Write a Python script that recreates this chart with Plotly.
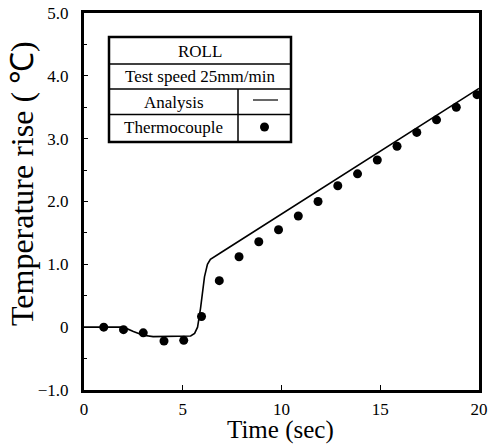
import plotly.graph_objects as go

# Thermocouple measurements (time in s, temperature rise in degC)
tc_time = [1.0, 2.0, 3.0, 4.05, 5.05, 5.95, 6.85, 7.85, 8.85, 9.85, 10.85,
           11.85, 12.85, 13.85, 14.85, 15.85, 16.85, 17.85, 18.85, 19.9]
tc_temp = [0.0, -0.04, -0.09, -0.22, -0.21, 0.17, 0.74, 1.12, 1.36, 1.55, 1.77,
           2.0, 2.25, 2.44, 2.66, 2.88, 3.1, 3.3, 3.5, 3.7]

# Analysis curve
an_time = [0, 2.0, 2.5, 3.0, 3.5, 5.0, 5.4, 5.6, 5.75, 5.9, 6.0, 6.1, 6.25,
           6.4, 7.0, 10, 15, 20]
an_temp = [0, 0, -0.07, -0.13, -0.15, -0.15, -0.14, -0.1, 0.0, 0.3, 0.55,
           0.8, 1.0, 1.08, 1.2, 1.8, 2.8, 3.8]

x_ticks = [0, 5, 10, 15, 20]
x_ticklabels = ["0", "5", "10", "15", "20"]
y_ticks = [-1, 0, 1, 2, 3, 4, 5]
y_ticklabels = ["\u22121.0", "0", "1.0", "2.0", "3.0", "4.0", "5.0"]

legend_rows = ["ROLL", "Test speed 25mm/min", "Analysis", "Thermocouple"]
x_title = "Time (sec)"
y_title = "Temperature rise ( \u2103)"

FONT = "Liberation Serif"

fig = go.Figure()
fig.add_trace(go.Scatter(x=an_time, y=an_temp, mode="lines",
                         line=dict(color="black", width=1.6), showlegend=False))
fig.add_trace(go.Scatter(x=tc_time, y=tc_temp, mode="markers",
                         marker=dict(color="black", size=9), showlegend=False,
                         cliponaxis=False))

# plot area in px: left 84, right 479, top 13, bottom 390
def px_x(p):
    return (p - 84) / 395.0

def px_y(p):
    return (390 - p) / 377.0

L, R, T, B = px_x(109), px_x(291), px_y(37), px_y(142)
r1, r2, r3 = px_y(64), px_y(89), px_y(114.5)
vx = px_x(238)

shapes = [
    dict(type="rect", xref="paper", yref="paper", x0=L, x1=R, y0=B, y1=T,
         line=dict(color="black", width=2.5), fillcolor="white", layer="above"),
]
for yy in (r1, r2, r3):
    shapes.append(dict(type="line", xref="paper", yref="paper", x0=L, x1=R,
                       y0=yy, y1=yy, line=dict(color="black", width=1.5)))
shapes.append(dict(type="line", xref="paper", yref="paper", x0=vx, x1=vx,
                   y0=B, y1=r2, line=dict(color="black", width=1.5)))
# legend symbols
shapes.append(dict(type="line", xref="paper", yref="paper", x0=px_x(253),
                   x1=px_x(278), y0=px_y(100), y1=px_y(100),
                   line=dict(color="black", width=1.2)))
cx, cy = 264.5, 127
shapes.append(dict(type="circle", xref="paper", yref="paper",
                   x0=px_x(cx - 4.5), x1=px_x(cx + 4.5),
                   y0=px_y(cy + 4.5), y1=px_y(cy - 4.5),
                   fillcolor="black", line=dict(color="black", width=0)))

annotations = []
centers = [((L + R) / 2, px_y(51.5)), ((L + R) / 2, px_y(77)),
           ((L + vx) / 2, px_y(102)), ((L + vx) / 2, px_y(128))]
for txt, (ax, ay) in zip(legend_rows, centers):
    annotations.append(dict(text=txt, xref="paper", yref="paper", x=ax, y=ay,
                            showarrow=False, xanchor="center", yanchor="middle",
                            font=dict(family=FONT, size=17, color="black")))

# axis titles
annotations.append(dict(text=x_title, xref="paper", yref="paper",
                        x=px_x(280), y=px_y(446), showarrow=False,
                        xanchor="center", yanchor="bottom",
                        font=dict(family=FONT, size=25, color="black")))
annotations.append(dict(text=y_title, xref="paper", yref="paper",
                        x=px_x(22), y=px_y(184), showarrow=False, textangle=-90,
                        xanchor="center", yanchor="middle",
                        font=dict(family=FONT, size=32, color="black")))

fig.update_layout(
    width=495, height=445,
    margin=dict(l=84, r=16, t=13, b=55),
    paper_bgcolor="white", plot_bgcolor="white",
    shapes=shapes, annotations=annotations,
    font=dict(family=FONT, color="black"),
    xaxis=dict(range=[0, 20], tickvals=x_ticks, ticktext=x_ticklabels,
               ticks="inside", ticklen=5, tickwidth=1.2, tickcolor="black",
               showline=True, linewidth=3, linecolor="black", mirror=True,
               showgrid=False, zeroline=False, automargin=False,
               tickfont=dict(family=FONT, size=17, color="black"),
               ticklabelstandoff=2),
    yaxis=dict(range=[-1, 5], tickvals=y_ticks, ticktext=y_ticklabels,
               ticks="inside", ticklen=4, tickwidth=1.2, tickcolor="black",
               minor=dict(dtick=0.5, ticks="inside", ticklen=3,
                          tickcolor="black", tickwidth=1, showgrid=False),
               showline=True, linewidth=3, linecolor="black", mirror=True,
               showgrid=False, zeroline=False, automargin=False,
               tickfont=dict(family=FONT, size=17, color="black"),
               ticklabelstandoff=9),
)

fig.write_html("out.html", config={"displayModeBar": False},
               post_script="document.body.style.margin='0';")
